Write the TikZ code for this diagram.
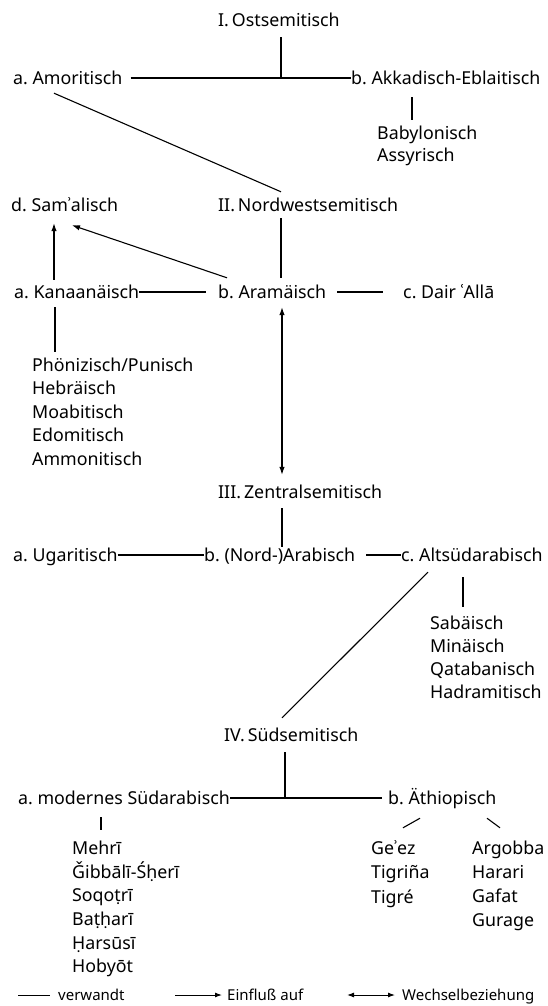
\documentclass[tikz,border=0pt]{standalone}
\usepackage{fontspec}
\setmainfont{Noto Sans}
\usetikzlibrary{arrows.meta}
\frenchspacing
\begin{document}
\begin{tikzpicture}[x=1pt,y=-1pt,
  lang/.style={inner sep=0pt, anchor=west, text height=12.7pt, text depth=0pt,
    font=\fontsize{17.8}{20}\selectfont},
  rel/.style={line width=1.1pt},
  mainhead/.tip={Latex[length=8pt,width=5.5pt]},
  keyhead/.tip={Latex[length=7pt,width=5pt]},
  infl/.style={rel, -mainhead},
  mutual/.style={rel, mainhead-mainhead},
  keytext/.style={inner sep=0pt, anchor=west, text height=10.7pt, text depth=0pt,
    font=\fontsize{15}{17}\selectfont},
  keyline/.style={line width=1pt}]
\useasboundingbox (0,0) rectangle (547,1006);
\coordinate (trunk) at (281,0);

% I. East Semitic
\node[lang] (ost)  at (218,20) {I.\,Ostsemitisch};
\node[lang] (amor) at (13,78)  {a. Amoritisch};
\node[lang] (akk)  at (351,78) {b. Akkadisch-Eblaitisch};
\foreach \t [count=\i] in {Babylonisch, Assyrisch}
  \node[lang] (akk\i) at (377,{133+22*(\i-1)}) {\t};

% II. Northwest Semitic
\node[lang] (sam)  at (11,205)  {d. Samʾalisch};
\node[lang] (nw)   at (218,205) {II.\,Nordwestsemitisch};
\node[lang] (kan)  at (14,292)  {a. Kanaanäisch};
\node[lang] (aram) at (218,292) {b. Aramäisch};
\node[lang] (dair) at (403,292) {c. Dair ʿAllā};
\foreach \t [count=\i] in {Phönizisch/Punisch, Hebräisch, Moabitisch, Edomitisch, Ammonitisch}
  \node[lang] (kan\i) at (32,{365+23.5*(\i-1)}) {\t};

% III. Central Semitic
\node[lang] (zent)   at (218,492) {III.\,Zentralsemitisch};
\node[lang] (ugar)   at (13,555)  {a. Ugaritisch};
\node[lang] (nordar) at (204,555) {b. (Nord-)Arabisch};
\node[lang] (alts)   at (401,555) {c. Altsüdarabisch};
\foreach \t [count=\i] in {Sabäisch, Minäisch, Qatabanisch, Hadramitisch}
  \node[lang] (alts\i) at (430,{623+23*(\i-1)}) {\t};

% IV. South Semitic
\node[lang] (sued) at (224,735) {IV.\,Südsemitisch};
\node[lang] (mod)  at (18,798)  {a. modernes Südarabisch};
\node[lang] (aeth) at (388,798) {b. Äthiopisch};
\foreach \t [count=\i] in {Mehrī, Ǧibbālī-Śḥerī, Soqoṭrī, Baṭḥarī, Ḥarsūsī, Hobyōt}
  \node[lang] (mod\i) at (72,{848+23.7*(\i-1)}) {\t};
\foreach \t [count=\i] in {Geʾez, Tigriña, Tigré}
  \node[lang] (gez\i) at (371,{848+24.5*(\i-1)}) {\t};
\foreach \t [count=\i] in {Argobba, Harari, Gafat, Gurage}
  \node[lang] (arg\i) at (472,{848+24*(\i-1)}) {\t};

% connectors: I
\coordinate (bar1) at (amor.east -| trunk);
\draw[rel, shorten <=10.6pt] (ost.south -| trunk) -- (bar1);
\draw[rel] ([xshift=8pt]amor.east) -- (akk.west);
\draw[rel, shorten <=12.6pt, shorten >=6.6pt] ([xshift=61pt]akk.south west) -- ([xshift=35pt]akk1.north west);
\draw[rel] ([shift={(41,8.65)}]amor.south west) -- ([yshift=6.65pt]nw.north -| trunk);

% connectors: II
\draw[rel, shorten <=6.65pt, shorten >=7.65pt] (nw.south -| trunk) -- (aram.north -| trunk);
\draw[infl, shorten <=5.65pt, shorten >=11.65pt] ([xshift=40pt]kan.north west) -- ([xshift=43pt]sam.south west);
\draw[infl] ([shift={(9,-7.65)}]aram.north west) -- ([shift={(61,13.65)}]sam.south west);
\draw[rel] (kan.east) -- ([xshift=-12pt]aram.west);
\draw[rel] ([xshift=11pt]aram.east) -- ([xshift=-20pt]dair.west);
\draw[rel, shorten <=8.65pt, shorten >=6.65pt] ([xshift=41pt]kan.south west) -- ([xshift=23pt]kan1.north west);
\draw[mutual, shorten <=8.65pt, shorten >=10.65pt] ([xshift=1pt]aram.south -| trunk) -- ([xshift=1pt]zent.north -| trunk);

% connectors: III
\draw[rel, shorten <=9.65pt, shorten >=1pt] ([xshift=1pt]zent.south -| trunk) -- ([xshift=1pt]nordar.north -| trunk);
\draw[rel] (ugar.east) -- (nordar.west);
\draw[rel] ([xshift=11pt]nordar.east) -- (alts.west);
\draw[rel, shorten <=15.65pt, shorten >=9.65pt] ([xshift=62pt]alts.south west) -- ([xshift=33pt]alts1.north west);
\draw[rel] ([shift={(27,10.65)}]alts.south west) -- ([shift={(1,-10.65)}]sued.north -| trunk);

% connectors: IV
\coordinate (bar4) at ([xshift=4pt]mod.east -| trunk);
\draw[rel, shorten <=10.65pt] ([xshift=4pt]sued.south -| trunk) -- (bar4);
\draw[rel] (mod.east) -- ([xshift=-6pt]aeth.west);
\draw[rel, shorten <=12.65pt, shorten >=11.65pt] ([xshift=83pt]mod.south west) -- ([xshift=29pt]mod1.north west);
\draw[rel] ([shift={(32,-13.65)}]gez1.north west) -- ([shift={(32,13.65)}]aeth.south west);
\draw[rel] ([shift={(99,13.65)}]aeth.south west) -- ([shift={(28,-13.65)}]arg1.north west);

% key
\node[keytext] (kv) at (58,995)  {verwandt};
\node[keytext] (ke) at (227,995) {Einfluß auf};
\node[keytext] (kw) at (402,995) {Wechselbeziehung};
\draw[keyline] ([xshift=-40pt]kv.west) -- ([xshift=-8pt]kv.west);
\draw[keyline, -keyhead] ([xshift=-52pt]ke.west) -- ([xshift=-5pt]ke.west);
\draw[keyline, keyhead-keyhead] ([xshift=-55pt]kw.west) -- ([xshift=-7pt]kw.west);
\end{tikzpicture}
\end{document}
